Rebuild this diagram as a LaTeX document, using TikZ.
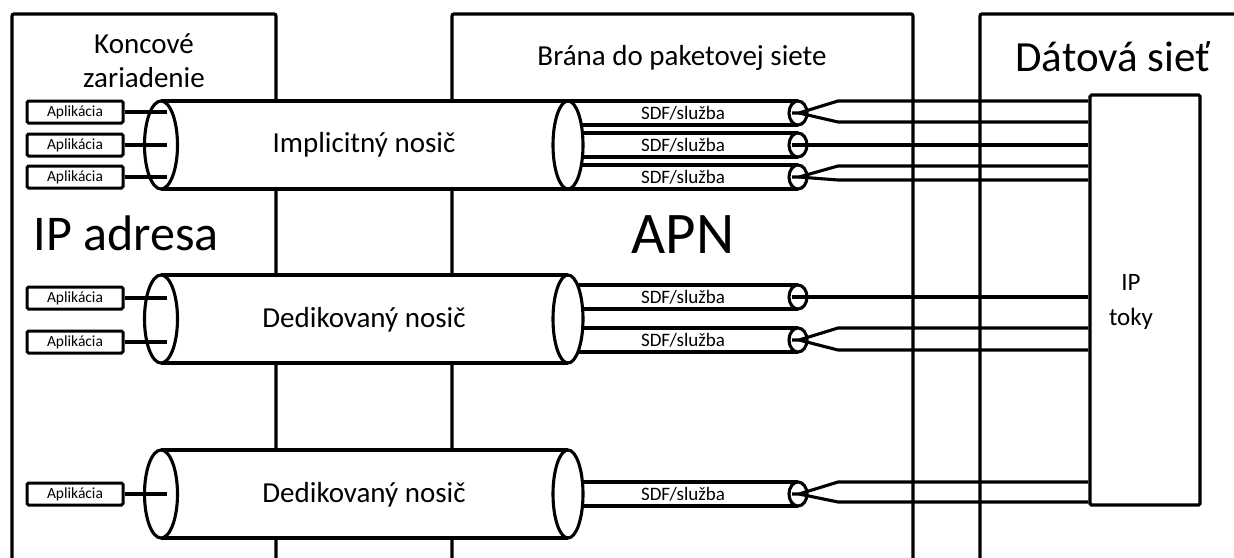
\documentclass[tikz,border=0pt]{standalone}
\usepackage{fontspec}
\setmainfont{Carlito}
\tikzset{
  frame/.style={line width=3.2pt, rounded corners=2pt},
  wire/.style={line width=3.1pt, line join=round},
  tubeline/.style={line width=3.1pt},
  appbox/.style={draw, line width=3pt, rounded corners=1.5pt, minimum width=96pt,
    minimum height=22pt, inner sep=0pt, font=\fontsize{15.5}{17}\selectfont},
  sdflabel/.style={inner sep=0pt, font=\fontsize{19}{20}\selectfont},
  biglabel/.style={inner sep=0pt, font=\fontsize{29}{32}\selectfont},
  headlabel/.style={inner sep=0pt, align=center, font=\fontsize{29}{34}\selectfont},
}
% big bearer tube: body and both end faces are drawn in separate passes
\newcommand\tubebody[1]{%
  \fill[white] (161,#1-44) rectangle (568,#1+44);
  \draw[tubeline] (161,#1-44) -- (568,#1-44) (161,#1+44) -- (568,#1+44);
  \draw[tubeline, fill=white] (161,#1) ellipse [x radius=16.5, y radius=44];
}
\newcommand\tubeface[1]{%
  \draw[tubeline, fill=white] (568,#1) ellipse [x radius=15, y radius=44];
}
% service data flow tube inside a bearer
\newcommand\sdfbody[2]{%
  \fill[white] (568,#1-12) rectangle (798,#1+12);
  \draw[tubeline] (568,#1-12) -- (798,#1-12) (568,#1+12) -- (798,#1+12);
  \node[sdflabel] (#2) at (683,#1) {SDF/služba};
}
\newcommand\sdfend[1]{%
  \draw[tubeline, fill=white] (798,#1) ellipse [x radius=9, y radius=12];
}
\begin{document}
\begin{tikzpicture}[x=1pt, y=-1pt]
\useasboundingbox (0,0) rectangle (1234,557);

% domain frames
\draw[frame] (12,560) -- (12,14) -- (276,14) -- (276,560);
\draw[frame] (452,560) -- (452,14) -- (913,14) -- (913,560);
\draw[frame] (980,560) -- (980,14) -- (1240,14);

% IP flows box
\node[draw, line width=3.2pt, rounded corners=1.5pt, minimum width=110pt, minimum height=410pt,
      inner sep=0pt] (ip) at (1145,300) {};
\node[inner sep=0pt, align=center, font=\fontsize{25}{35}\selectfont] (iptxt) at (1131,302) {IP\\toky};

% bearer bodies and left faces
\tubebody{145}
\tubebody{319}
\tubebody{494}

% applications
\node[appbox] (a1) at (75,112) {Aplikácia};
\node[appbox] (a2) at (75,145) {Aplikácia};
\node[appbox] (a3) at (75,177) {Aplikácia};
\node[appbox] (a4) at (75,298) {Aplikácia};
\node[appbox] (a5) at (75,342) {Aplikácia};
\node[appbox] (a6) at (75,494) {Aplikácia};
\foreach \n/\y in {1/112,2/145,3/177,4/298,5/342,6/494}{
  \coordinate (in\n) at (167,\y);
  \draw[wire] (a\n.east) -- (in\n);
}

% service data flows
\sdfbody{113}{s1}
\sdfbody{145}{s2}
\sdfbody{177}{s3}
\sdfbody{297}{s4}
\sdfbody{340}{s5}
\sdfbody{494}{s6}

\tubeface{145}
\tubeface{319}
\tubeface{494}

\sdfend{113}
\sdfend{145}
\sdfend{177}
\sdfend{297}
\sdfend{340}
\sdfend{494}

% flows towards the data network: fanned pairs
\foreach \c/\ya/\yb in {113/101/122, 177/166/180, 340/328/350, 494/482/502}{
  \coordinate (f) at (799,\c);
  \coordinate (pa) at (838,\ya);
  \coordinate (pb) at (838,\yb);
  \draw[wire] (792,\c) -- (f) -- (pa) -- (ip.west |- pa);
  \draw[wire] (f) -- (pb) -- (ip.west |- pb);
}
% single flows
\foreach \c in {145, 297}{
  \coordinate (p) at (792,\c);
  \draw[wire] (p) -- (ip.west |- p);
}

% labels
\node[biglabel] (t1) at (364,145) {Implicitný nosič};
\node[biglabel] (t2) at (364,320) {Dedikovaný nosič};
\node[biglabel] (t3) at (364,495) {Dedikovaný nosič};
\node[headlabel] (h1) at (144,61) {Koncové\\zariadenie};
\node[headlabel] (h2) at (682,58) {Brána do paketovej siete};
\node[inner sep=0pt, font=\fontsize{43}{45}\selectfont] (h3) at (1113,57) {Dátová sieť};
\node[inner sep=0pt, font=\fontsize{50}{52}\selectfont] (ipa) at (126,233) {IP adresa};
\node[inner sep=0pt, font=\fontsize{59}{60}\selectfont] (apn) at (683,235) {APN};
\end{tikzpicture}
\end{document}
